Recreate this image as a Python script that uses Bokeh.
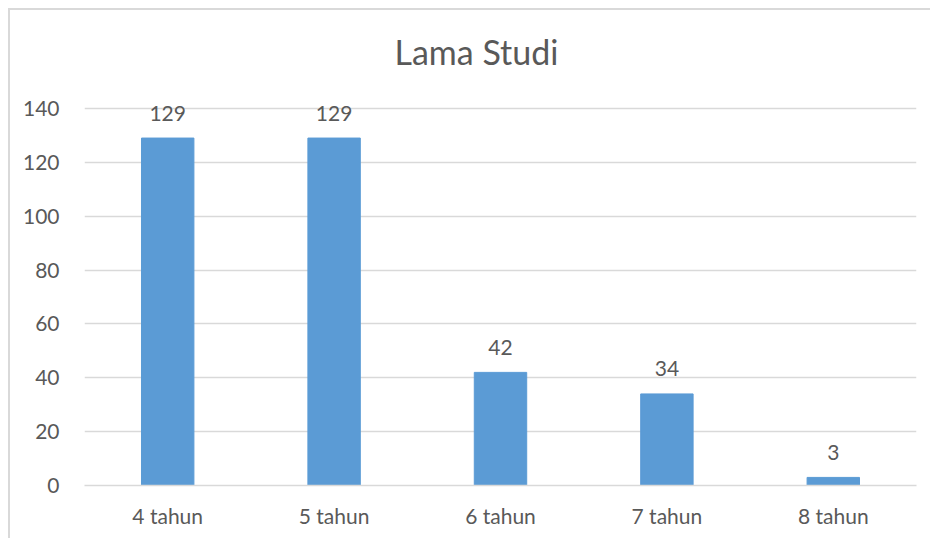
from bokeh.plotting import figure
from bokeh.models import ColumnDataSource, LabelSet, FixedTicker, Title
from bokeh.core.properties import value
from bokeh.embed import file_html
from bokeh.resources import INLINE

categories = ["4 tahun", "5 tahun", "6 tahun", "7 tahun", "8 tahun"]
values = [129, 129, 42, 34, 3]
y_ticks = [0, 20, 40, 60, 80, 100, 120, 140]

FONT = "Lato"
TXT = "#595959"
GRID = "#D9D9D9"

src = ColumnDataSource(dict(cat=categories, val=values, lbl=[str(v) for v in values]))

p = figure(x_range=categories, y_range=(0, 150), width=922, height=530,
           output_backend="svg", toolbar_location=None,
           min_border_left=74, min_border_right=16, min_border_top=71, min_border_bottom=55)
p.styles = {"margin-left": "8px", "margin-top": "8px",
            "border-top": "2px solid #D9D9D9", "border-left": "2px solid #D9D9D9"}

p.vbar(x="cat", top="val", width=0.315, source=src, color="#5B9BD5")

labels = LabelSet(x="cat", y="val", text="lbl", source=src, y_offset=25,
                  text_align="center", text_baseline="middle",
                  text_font=value(FONT), text_font_size="21px", text_color=TXT)
p.add_layout(labels)

t = Title(text="Lama Studi", align="left", text_font=FONT, text_font_size="34px",
          text_color=TXT, text_font_style="normal", offset=310, standoff=20)
p.add_layout(t, "above")

p.outline_line_color = None
p.background_fill_color = "white"
p.border_fill_color = "white"

p.xgrid.grid_line_color = None
p.ygrid.grid_line_color = GRID
p.ygrid.grid_line_width = 1.5
p.yaxis.ticker = FixedTicker(ticks=y_ticks)

p.yaxis.axis_line_color = None
p.yaxis.major_tick_line_color = None
p.yaxis.minor_tick_line_color = None
p.yaxis.major_label_text_font = FONT
p.yaxis.major_label_text_font_size = "21px"
p.yaxis.major_label_text_color = TXT
p.yaxis.major_label_standoff = 19

p.xaxis.axis_line_color = GRID
p.xaxis.axis_line_width = 1.5
p.xaxis.major_tick_line_color = None
p.xaxis.minor_tick_line_color = None
p.xaxis.major_label_text_font = FONT
p.xaxis.major_label_text_font_size = "21px"
p.xaxis.major_label_text_color = TXT
p.xaxis.major_label_standoff = 11

p.x_range.range_padding = 0

open("out.html", "w").write(file_html(p, INLINE))
